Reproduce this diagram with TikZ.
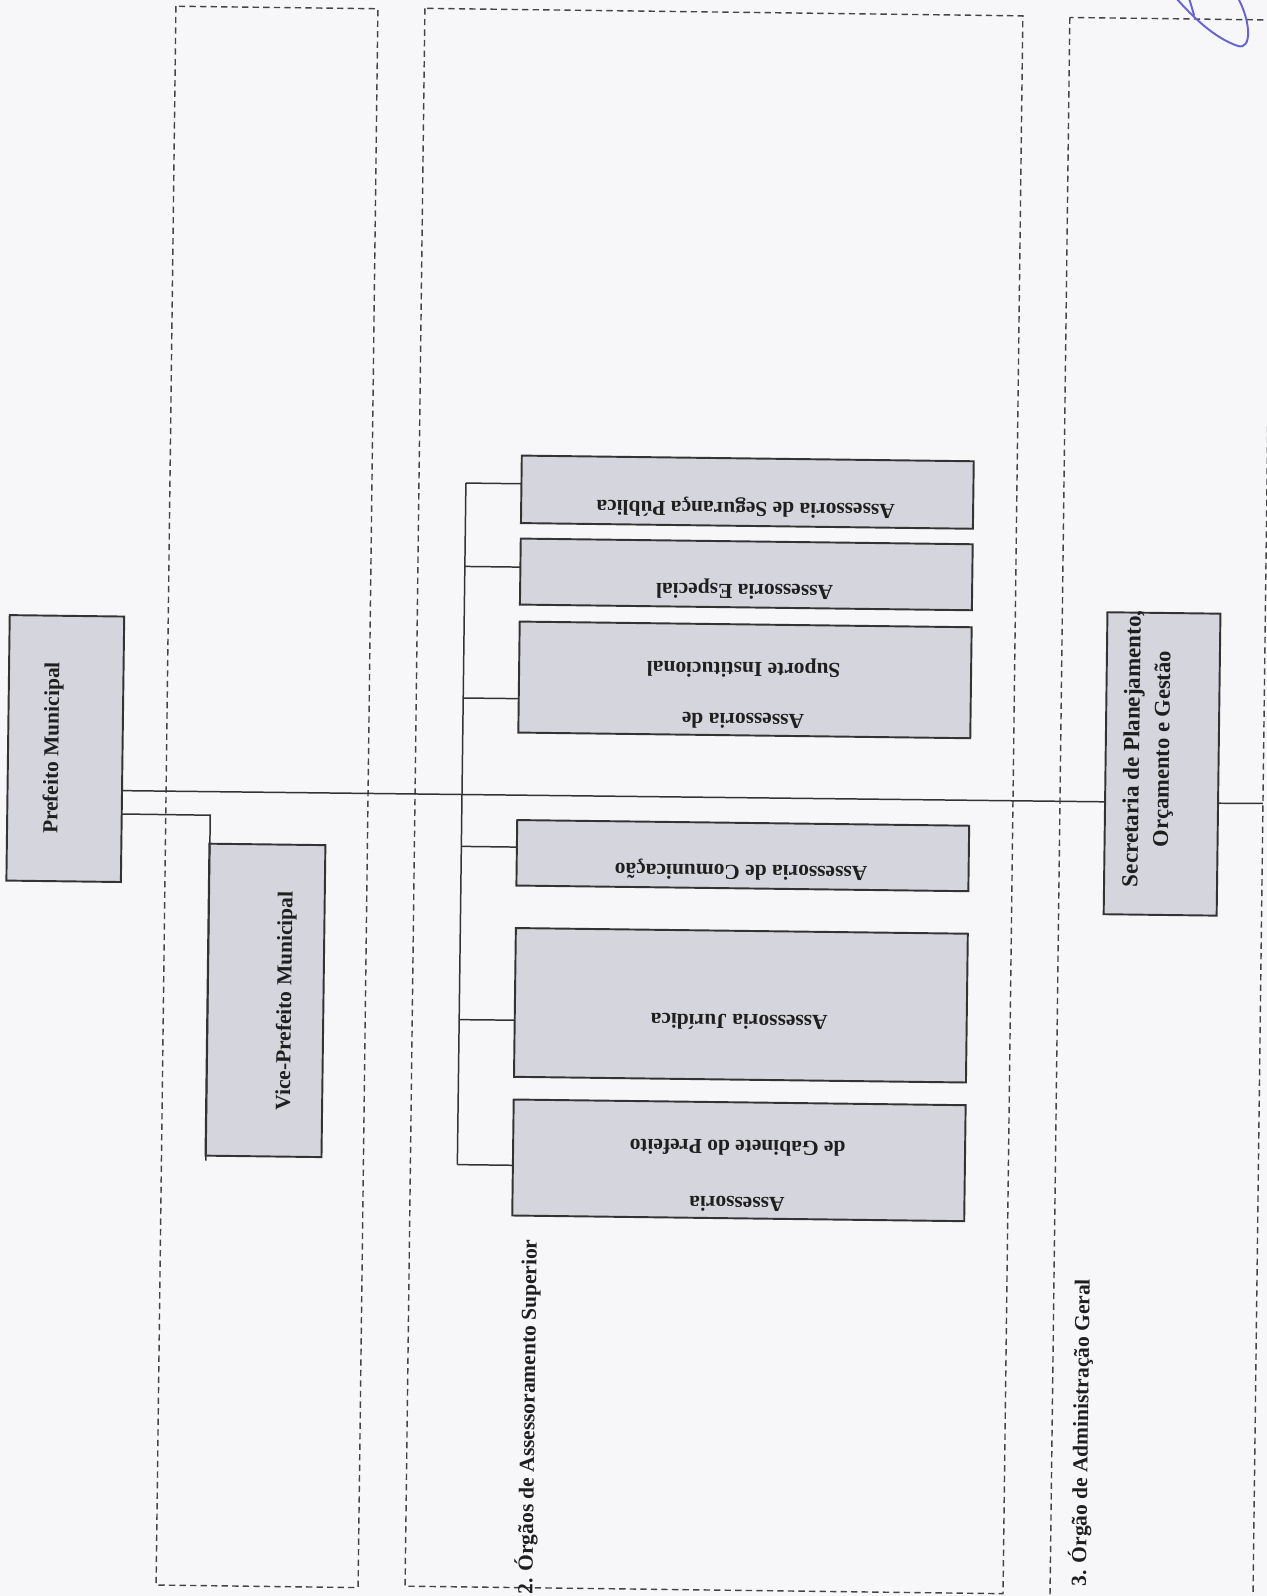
\documentclass[tikz,border=0pt]{standalone}
\usepackage{fontspec}
\setmainfont{Liberation Serif}
\usetikzlibrary{calc}
\definecolor{boxc}{HTML}{D5D5DD}
\definecolor{linec}{HTML}{333333}
\definecolor{dashc}{HTML}{444444}
\definecolor{paper}{HTML}{F7F7F9}
\definecolor{penc}{HTML}{6464D2}
\newcommand\pxu{0.02cm}
\begin{document}
\begin{tikzpicture}[x=0.02cm,y=-0.02cm,
  box/.style={draw=linec,fill=boxc,line width=1.1pt,rectangle,inner sep=0pt,outer sep=0pt},
  conn/.style={draw=linec,line width=0.85pt},
  dbox/.style={draw=dashc,line width=0.8pt,dash pattern=on 3.6pt off 2.4pt},
  txt/.style={font=\bfseries\fontsize{12.2}{14}\selectfont,inner sep=0pt,text=black!88},
  txtsec/.style={font=\bfseries\fontsize{12.8}{14}\selectfont,inner sep=0pt,text=black!88},
  penstroke/.style={draw=penc,line width=1.1pt,line cap=round}]
\fill[paper] (0,0) rectangle (1267,1596);
\path[use as bounding box] (0,0) rectangle (1267,1596);
\clip (0,0) rectangle (1267,1596);
\begin{scope}[rotate around={-0.72:(633.5,798)},transform shape]
  % dashed group frames
  \draw[dbox] (166,12) rectangle (368,1591);
  \draw[dbox] (415,11) rectangle (1013,1589);
  \draw[dbox] (1060,12) rectangle (1263,1640);
  % boxes
  \node[box,minimum width=114.5*\pxu,minimum height=265.5*\pxu] (pref) at (64.7,755.7) {};
  \node[box,minimum width=116*\pxu,minimum height=312*\pxu] (vice) at (268,1005) {};
  \node[box,minimum width=113*\pxu,minimum height=302*\pxu] (sec) at (1161.6,757.3) {};
  \node[box,minimum width=452*\pxu,minimum height=67.5*\pxu] (seg) at (743.5,490.75) {};
  \node[box,minimum width=452*\pxu,minimum height=66*\pxu] (esp) at (743.5,573) {};
  \node[box,minimum width=452*\pxu,minimum height=111*\pxu] (sup) at (743.5,678.5) {};
  \node[box,minimum width=452*\pxu,minimum height=65.5*\pxu] (com) at (743.5,854.25) {};
  \node[box,minimum width=452*\pxu,minimum height=148.8*\pxu] (jur) at (743.5,1003.9) {};
  \node[box,minimum width=452*\pxu,minimum height=116*\pxu] (gab) at (743.5,1159) {};
  % connectors
  \coordinate (mend) at (1263,795.5);
  \coordinate (vc) at (210.5,820.6);
  \coordinate (ve) at (210.5,1166);
  \draw[conn] ($(pref.north east)!0.656!(pref.south east)$) -- ($(sec.north west)!0.628!(sec.south west)$);
  \draw[conn] ($(sec.north east)!0.628!(sec.south east)$) -- (mend);
  \draw[conn] ($(pref.north east)!0.744!(pref.south east)$) -- (vc) -- (ve);
  \coordinate (k1) at (462,485.2);
  \coordinate (k2) at (462,568.6);
  \coordinate (k3) at (462,700.2);
  \coordinate (k4) at (462,848.6);
  \coordinate (k5) at (462,1021.9);
  \coordinate (k6) at (462,1166.9);
  \draw[conn] (k1) -- (k6);
  \draw[conn] (k1) -- ($(seg.north west)!0.418!(seg.south west)$);
  \draw[conn] (k2) -- ($(esp.north west)!0.433!(esp.south west)$);
  \draw[conn] (k3) -- ($(sup.north west)!0.695!(sup.south west)$);
  \draw[conn] (k4) -- ($(com.north west)!0.414!(com.south west)$);
  \draw[conn] (k5) -- ($(jur.north west)!0.62!(jur.south west)$);
  \draw[conn] (k6) -- ($(gab.north west)!0.568!(gab.south west)$);
  % texts
  \node[txt,rotate=90] (tpref) at (52.5,755.3) {Prefeito Municipal};
  \node[txt,rotate=90] (tvice) at (288.5,1005.4) {Vice-Prefeito Municipal};
  \node[txtsec,rotate=90,font=\bfseries\fontsize{13.1}{14}\selectfont] (tsec1) at (1133,742.5) {Secretaria de Planejamento,};
  \node[txtsec,rotate=90] (tsec2) at (1163,742.5) {Orçamento e Gestão};
  \node[txt,rotate=180] (tseg) at (742,506) {Assessoria de Segurança Pública};
  \node[txt,rotate=180] (tesp) at (742,588) {Assessoria Especial};
  \node[txt,rotate=180] (tsup1) at (742,719.5) {Assessoria de};
  \node[txt,rotate=180] (tsup2) at (742,666.5) {Suporte Institucional};
  \node[txt,rotate=180] (tcom) at (742,869) {Assessoria de Comunicação};
  \node[txt,rotate=180] (tjur) at (742,1020.6) {Assessoria Jurídica};
  \node[txt,rotate=180] (tgab1) at (742,1203) {Assessoria};
  \node[txt,rotate=180] (tgab2) at (742,1146.5) {de Gabinete do Prefeito};
  \node[txt,rotate=90,anchor=west] (lab2) at (535.5,1596) {2. Órgãos de Assessoramento Superior};
  \node[txt,rotate=90,anchor=west] (lab3) at (1089,1581) {3. Órgão de Administração Geral};
\end{scope}
% pen mark
\draw[penstroke] (1176,-2) .. controls (1192,16) and (1214,38) .. (1238,46) .. controls (1252,50) and (1251,22) .. (1238,-2);
\draw[penstroke] (1189,-2) -- (1194,15);
\end{tikzpicture}
\end{document}
